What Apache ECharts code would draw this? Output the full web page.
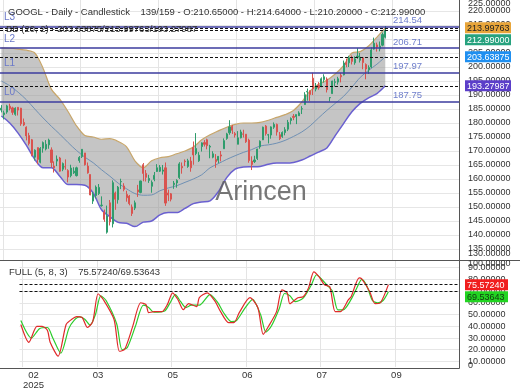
<!DOCTYPE html>
<html><head><meta charset="utf-8">
<script src="https://cdn.jsdelivr.net/npm/echarts@6/dist/echarts.min.js"></script>
<style>html,body{margin:0;padding:0;background:#fff}#c{width:520px;height:390px}</style>
</head><body><div id="c"></div>
<script>
// ---------- data ----------
const dates = [
'2025-02-11','2025-02-12','2025-02-13','2025-02-14','2025-02-18','2025-02-19','2025-02-20','2025-02-21','2025-02-24','2025-02-25','2025-02-26','2025-02-27','2025-02-28',
'2025-03-03','2025-03-04','2025-03-05','2025-03-06','2025-03-07','2025-03-10','2025-03-11','2025-03-12','2025-03-13','2025-03-14','2025-03-17','2025-03-18','2025-03-19','2025-03-20','2025-03-21','2025-03-24','2025-03-25','2025-03-26','2025-03-27','2025-03-28','2025-03-31',
'2025-04-01','2025-04-02','2025-04-03','2025-04-04','2025-04-07','2025-04-08','2025-04-09','2025-04-10','2025-04-11','2025-04-14','2025-04-15','2025-04-16','2025-04-17','2025-04-21','2025-04-22','2025-04-23','2025-04-24','2025-04-25','2025-04-28','2025-04-29','2025-04-30',
'2025-05-01','2025-05-02','2025-05-05','2025-05-06','2025-05-07','2025-05-08','2025-05-09','2025-05-12','2025-05-13','2025-05-14','2025-05-15','2025-05-16','2025-05-19','2025-05-20','2025-05-21','2025-05-22','2025-05-23','2025-05-27','2025-05-28','2025-05-29','2025-05-30',
'2025-06-02','2025-06-03','2025-06-04','2025-06-05','2025-06-06','2025-06-09','2025-06-10','2025-06-11','2025-06-12','2025-06-13','2025-06-16','2025-06-17','2025-06-18','2025-06-20','2025-06-23','2025-06-24','2025-06-25','2025-06-26','2025-06-27','2025-06-30',
'2025-07-01','2025-07-02','2025-07-03','2025-07-07','2025-07-08','2025-07-09','2025-07-10','2025-07-11','2025-07-14','2025-07-15','2025-07-16','2025-07-17','2025-07-18','2025-07-21','2025-07-22','2025-07-23','2025-07-24','2025-07-25','2025-07-28','2025-07-29','2025-07-30','2025-07-31',
'2025-08-01','2025-08-04','2025-08-05','2025-08-06','2025-08-07','2025-08-08','2025-08-11','2025-08-12','2025-08-13','2025-08-14','2025-08-15','2025-08-18','2025-08-19','2025-08-20','2025-08-21','2025-08-22','2025-08-25','2025-08-26','2025-08-27','2025-08-28','2025-08-29'];
const futureDates = ['2025-09-02','2025-09-03','2025-09-04','2025-09-05','2025-09-08','2025-09-09','2025-09-10','2025-09-11','2025-09-12','2025-09-15','2025-09-16','2025-09-17','2025-09-18','2025-09-19','2025-09-22','2025-09-23','2025-09-24','2025-09-25','2025-09-26','2025-09-29','2025-09-30','2025-10-01','2025-10-02','2025-10-03','2025-10-06','2025-10-07'];

const open = [184.6,183.0,183.9,186.0,185.4,183.1,185.6,185.3,180.2,178.5,175.5,174.0,167.8,
171.2,166.0,171.0,170.7,172.2,170.4,164.6,166.4,167.5,163.5,164.4,163.0,161.2,162.2,161.2,166.6,168.0,169.3,164.6,161.6,152.1,
154.1,154.8,150.5,148.2,141.0,151.5,144.0,155.0,152.6,159.0,157.5,154.5,153.9,150.0,149.6,156.1,155.2,165.1,162.0,159.5,157.4,
159.9,162.7,162.8,162.8,164.0,155.0,154.7,158.0,158.6,160.5,164.5,166.4,164.5,166.4,171.3,169.1,166.5,171.6,173.0,174.0,171.4,
167.8,167.0,166.7,168.6,170.8,174.5,176.5,178.8,176.2,172.4,174.7,176.1,176.0,173.9,166.4,166.2,167.3,171.5,174.0,178.9,
175.7,175.7,178.5,179.5,175.8,175.2,176.6,177.8,180.9,182.4,182.3,182.6,185.0,186.6,191.1,191.5,196.0,192.1,193.5,193.0,195.5,195.7,
189.0,190.5,194.5,194.6,197.0,197.2,201.5,201.5,203.5,201.5,203.5,202.4,203.3,200.9,199.0,200.0,206.4,207.9,206.5,207.8,210.65];
const high = [186.4,184.4,186.5,186.9,185.8,185.6,185.7,185.4,181.6,178.8,176.5,174.3,170.6,
171.3,171.4,173.4,173.9,174.4,171.3,166.3,168.4,167.9,165.9,167.0,163.5,165.1,164.2,164.4,168.2,170.7,169.3,165.9,161.6,155.4,
157.7,158.2,153.8,149.1,150.5,152.5,159.5,155.5,157.5,160.1,158.5,155.8,154.3,150.9,152.3,157.9,159.4,165.7,163.2,161.5,159.5,
162.5,165.3,165.0,165.0,165.9,156.2,155.0,159.3,159.9,166.0,165.9,167.0,167.2,167.9,173.4,176.4,169.6,173.1,173.9,174.4,172.2,
169.9,168.9,168.2,170.0,174.5,176.5,181.0,179.3,176.8,177.1,177.6,177.6,176.0,174.4,168.1,168.3,170.8,173.8,178.7,179.3,
176.1,178.8,180.2,179.8,176.8,177.0,178.5,181.1,182.0,183.2,183.0,184.2,186.0,191.0,192.3,191.6,197.95,194.3,194.6,196.3,197.4,196.3,
189.2,195.1,195.8,196.5,197.9,202.3,203.0,204.0,204.1,203.8,206.71,205.0,203.6,201.3,200.6,207.0,210.5,208.7,209.1,212.3,214.64];
const low = [183.8,181.3,183.3,184.5,182.9,182.6,182.7,179.0,178.9,173.8,172.0,168.1,166.6,
165.3,165.6,169.4,170.2,170.8,164.1,162.3,164.6,162.6,162.8,163.3,158.8,160.6,161.8,160.9,165.8,167.5,164.8,161.9,154.2,151.1,
153.1,154.3,150.1,144.7,140.5,143.4,142.7,149.0,151.2,156.4,155.6,151.9,150.6,146.8,148.9,153.6,154.9,159.2,159.1,158.6,155.1,
159.2,162.5,162.5,161.6,150.4,152.1,152.0,156.5,156.9,160.0,161.9,164.6,164.0,162.6,165.1,168.5,166.1,169.8,171.6,170.6,167.4,
167.4,164.0,165.6,166.3,170.8,174.0,175.8,176.1,174.8,172.4,174.5,174.8,172.9,165.8,163.2,165.7,166.8,170.8,173.9,175.5,
172.7,174.4,177.9,175.5,173.9,174.7,175.6,177.1,179.5,181.0,179.6,182.5,183.2,186.5,188.0,187.9,190.0,191.3,191.9,192.8,194.4,190.9,
187.7,190.4,193.0,193.7,194.5,197.0,199.9,200.0,200.9,200.8,202.9,201.6,199.2,195.6,197.5,199.6,206.2,205.5,205.6,207.4,210.2];
const close = [185.3,183.6,186.1,185.2,183.8,185.3,184.6,179.7,179.3,175.4,172.7,168.5,170.3,
167.0,170.9,173.0,172.4,173.9,165.9,164.0,167.1,162.8,165.5,164.3,160.7,163.9,162.8,164.0,167.7,170.6,165.1,162.2,154.3,154.6,
157.1,157.0,150.7,145.6,146.8,144.7,158.7,152.8,157.1,159.1,156.3,153.3,151.2,147.7,151.5,155.4,159.3,162.0,160.6,160.2,158.8,
161.3,164.0,164.2,163.2,151.4,154.3,152.8,158.5,159.5,165.4,164.0,166.2,166.5,164.0,168.6,170.9,168.5,172.9,172.4,171.9,171.7,
169.0,166.2,168.1,168.2,173.7,176.1,178.6,177.4,175.7,174.7,176.8,176.0,173.3,166.6,165.2,166.8,170.7,173.5,178.5,176.2,
175.8,178.6,179.5,176.8,174.4,176.6,177.6,180.2,181.6,182.0,183.0,183.6,185.1,190.1,191.3,190.2,192.2,193.2,192.6,195.8,196.5,191.9,
189.1,195.0,194.7,195.8,196.5,201.4,200.9,203.3,202.0,202.9,203.9,203.5,201.6,199.3,199.8,206.1,208.5,207.1,207.5,211.6,212.99];

// Bollinger band values read at every 3rd bar
const bbBars  = [0,3,6,9,12,15,18,21,24,27,30,33,36,39,42,45,48,51,54,57,60,63,66,69,72,75,78,81,84,87,90,93,96,99,102,105,108,111,114,117,120,123,126,129,132,135,138];
const bbUpper = [206.8,206.7,206.4,206.0,205.0,199.5,192.0,188.5,184.0,179.0,175.5,175.0,174.2,174.4,173.4,171.5,166.5,164.0,166.5,167.6,168.0,169.0,170.0,171.4,174.0,175.8,177.2,178.5,179.5,180.0,180.0,180.2,181.0,182.0,183.0,184.5,187.5,191.5,193.8,195.3,197.5,200.5,205.0,205.5,207.5,210.7,213.99763];
const bbMid   = [195.0,193.3,191.0,188.3,185.0,181.8,178.8,176.0,173.0,170.2,167.8,165.8,163.3,161.0,158.5,156.5,154.8,154.2,154.3,155.8,156.8,157.6,158.8,160.0,161.5,164.0,165.5,167.0,168.3,169.5,170.5,171.8,172.2,172.8,173.8,175.2,176.8,179.0,181.8,184.5,187.0,189.5,192.8,196.3,198.8,201.0,203.63875];
const bbLower = [182.5,180.0,176.4,172.0,167.0,164.0,164.0,161.0,158.0,158.0,157.8,155.0,149.0,146.5,144.5,144.2,143.0,144.6,145.0,147.2,148.0,148.0,149.5,151.2,151.8,152.2,155.5,160.5,163.5,164.3,164.4,164.5,165.3,165.7,165.7,165.9,166.8,168.2,169.6,171.1,175.5,179.8,184.0,187.0,189.0,190.5,193.27987];

// Full stochastic (5,8,3)
const kBars = [0,3,6,8,10,11,14,17,19,21,23,25,27,29,31,35,37,39,42,45,47,48,50,53,55,57,59,61,63,66,67,70,73,75,78,80,82,86,89,91,93,96,98,100,101,104,106,108,110,112,114,116,118,120,123,124,127,128,131,133,135,138];
const kValues = [41.5,26.3,39.9,40,36.5,26.3,14.5,41.5,45.8,48.3,47.5,39,44,67.8,62.7,45.8,18.7,20.4,39.9,60.1,58.5,51.7,52.5,52.5,58.5,68.6,62.7,54.2,59.3,56.8,64.4,68.6,61,52.5,43.2,43.2,51.7,64.4,55.9,33.1,40,52.5,71.1,68.6,59.3,64.4,65.2,72.8,86.4,82.1,75.4,73.7,52.5,52.5,62.7,65.2,81.3,80.4,69.5,59.3,60.1,75.5724];
const dBars = [0,4,7,10,12,15,18,20,22,24,26,28,30,32,36,38,40,43,46,48,50,54,56,58,60,62,64,67,71,74,76,79,81,84,87,90,92,94,97,99,101,103,106,109,111,113,115,117,119,121,124,126,128,130,132,134,136,138];
const dValues = [45,30,38,39,30,17,38,45,48,46,41,50,66,62,42,20,22,40,58,56,52,53,60,67,61,56,58,58,67,60,52,44,45,55,63,50,35,40,55,68,66,61,64,75,84,80,75,70,54,54,63,72,80,74,62,60,62,69.53643];

const levels = [214.54, 206.71, 197.97, 187.75];
const levelNames = ['L3','L2','L1','L0'];
const bbLast = [203.63875, 213.99763, 193.27987];   // mid / upper / lower
const ohlcLast = [210.65, 214.64, 210.20, 212.99];
const stochLast = [75.5724, 69.53643];
const cursorText = '139/159';

// ---------- chart ----------
const FONT = '"Liberation Sans", Arial, sans-serif';
const AX = 9;
const chart = echarts.init(document.getElementById('c'), null, {renderer: 'canvas'});
const cats = dates.concat(futureDates);
const ohlc = open.map((o, i) => [o, close[i], low[i], high[i]]);
const pairs = (xs, ys) => xs.map((x, i) => [x, ys[i]]);
const tickEvery = (i) => i % 28 === 1;
const f5 = v => v.toFixed(5);

const xCommon = {
  type: 'category', data: cats, boundaryGap: true,
  axisLine: {show: false}, axisTick: {show: false},
  splitLine: {show: true, interval: tickEvery, lineStyle: {color: '#e4e4e4', width: 1}}
};

const option = {
  animation: false,
  backgroundColor: '#ffffff',
  textStyle: {fontFamily: FONT},
  grid: [
    {left: -1, width: 460, top: 0, height: 260},
    {left: -1, width: 460, top: 261, height: 107}
  ],
  xAxis: [
    Object.assign({}, xCommon, {gridIndex: 0, axisLabel: {show: false}}),
    Object.assign({}, xCommon, {gridIndex: 1,
      axisLabel: {show: true, interval: tickEvery, margin: 3, color: '#333', fontSize: 9.5, fontFamily: FONT,
        formatter: (v, idx) => idx === 1 ? '{s|' + v.slice(5, 7) + '}\n{s|' + v.slice(0, 4) + '}' : '{n|' + v.slice(5, 7) + '}',
        rich: {s: {padding: [0, 0, 0, 20], fontSize: 9.5, lineHeight: 10, color: '#333', fontFamily: FONT},
               n: {fontSize: 9.5, lineHeight: 10, color: '#333', fontFamily: FONT}}}})
  ],
  yAxis: [
    {type: 'value', gridIndex: 0, position: 'right', min: 131.0714, max: 223.9286, splitNumber: 19,
      axisLine: {show: false}, axisTick: {show: false},
      axisLabel: {margin: 9, fontSize: AX, color: '#333', fontFamily: FONT, formatter: f5, showMinLabel: false, showMaxLabel: false},
      splitLine: {lineStyle: {color: '#e6e6e6'}, showMinLine: false, showMaxLine: false}},
    {type: 'value', gridIndex: 1, position: 'right', min: 5.26, max: 95.75, splitNumber: 9,
      axisLine: {show: false}, axisTick: {show: false},
      axisLabel: {margin: 9, fontSize: AX, color: '#333', fontFamily: FONT, formatter: f5, showMinLabel: false, showMaxLabel: false},
      splitLine: {lineStyle: {color: '#e6e6e6'}, showMinLine: false, showMaxLine: false}}
  ],
  series: [
    {name: 'bandBase', type: 'line', xAxisIndex: 0, yAxisIndex: 0, stack: 'bb', data: pairs(bbBars, bbLower),
      symbol: 'none', lineStyle: {opacity: 0}, silent: true, z: 1},
    {name: 'bandFill', type: 'line', xAxisIndex: 0, yAxisIndex: 0, stack: 'bb',
      data: bbBars.map((b, i) => [b, bbUpper[i] - bbLower[i]]),
      symbol: 'none', lineStyle: {opacity: 0}, areaStyle: {color: 'rgba(150,150,150,0.55)', opacity: 1}, silent: true, z: 1},
    {name: 'bbUpper', type: 'line', xAxisIndex: 0, yAxisIndex: 0, data: pairs(bbBars, bbUpper), symbol: 'none',
      smooth: 0.3, lineStyle: {color: '#c8a66a', width: 1.2}, silent: true, z: 2},
    {name: 'bbMid', type: 'line', xAxisIndex: 0, yAxisIndex: 0, data: pairs(bbBars, bbMid), symbol: 'none',
      smooth: 0.3, lineStyle: {color: '#6f90b4', width: 1}, silent: true, z: 2},
    {name: 'bbLower', type: 'line', xAxisIndex: 0, yAxisIndex: 0, data: pairs(bbBars, bbLower), symbol: 'none',
      smooth: 0.3, lineStyle: {color: '#6a60d0', width: 1.5}, silent: true, z: 2},
    {name: 'GOOGL', type: 'candlestick', xAxisIndex: 0, yAxisIndex: 0, data: ohlc, barWidth: 1.6, z: 3,
      itemStyle: {color: '#2f9c6c', color0: '#d9534f', borderColor: '#2f9c6c', borderColor0: '#d9534f', borderWidth: 1},
      markLine: {silent: true, symbol: ['none', 'none'], animation: false,
        data: levels.map((v, i) => ({yAxis: v, lineStyle: {color: '#3b3b9e', width: 1.6, type: 'solid'},
            label: {show: true, position: 'insideStartTop', formatter: levelNames[i], color: '#6a78c8', fontSize: 10, distance: 4, fontFamily: FONT}}))
          .concat([bbLast[1], ohlcLast[3], bbLast[0], bbLast[2]].map(v => ({yAxis: v,
            lineStyle: {color: '#111', width: 1, type: [3, 2]}, label: {show: false}})))},
      markPoint: {silent: true, symbol: 'circle', symbolSize: 0, animation: false,
        data: levels.map(v => ({coord: [146, v], value: v,
          label: {show: true, position: 'top', distance: 1, formatter: v.toFixed(2), color: '#6f7fcc', fontSize: 9.5, fontFamily: FONT}}))}},
    {name: 'K', type: 'line', xAxisIndex: 1, yAxisIndex: 1, data: pairs(kBars, kValues), symbol: 'none', smooth: 0.25,
      lineStyle: {color: '#e02a2a', width: 1.2}, silent: true, z: 3,
      markLine: {silent: true, symbol: ['none', 'none'], animation: false,
        data: stochLast.map(v => ({yAxis: v, lineStyle: {color: '#111', width: 1, type: [3, 2]}, label: {show: false}}))}},
    {name: 'D', type: 'line', xAxisIndex: 1, yAxisIndex: 1, data: pairs(dBars, dValues), symbol: 'none', smooth: 0.25,
      lineStyle: {color: '#2ccc2c', width: 1.2}, silent: true, z: 2}
  ]
};
chart.setOption(option);

// ---------- overlay texts, frame and value badges ----------
const g = [];
const ln = (x1, y1, x2, y2) => ({type: 'line', silent: true, z: 90, shape: {x1, y1, x2, y2}, style: {stroke: '#555', lineWidth: 1}});
g.push(ln(0, 260.5, 520, 260.5), ln(459.5, 0, 459.5, 368.5), ln(0, 368.5, 459.5, 368.5));
const txt = (x, y, s, size, fill, extra) => Object.assign({type: 'text', x, y, silent: true, z: 95,
  style: {text: s, fill, font: size + 'px ' + FONT, verticalAlign: 'middle', align: 'left'}}, extra || {});
g.push(txt(8, 12, 'GOOGL - Daily - Candlestick    ' + cursorText + ' - O:' + f5(ohlcLast[0]) + ' - H:' + f5(ohlcLast[1]) + ' - L:' + f5(ohlcLast[2]) + ' - C:' + f5(ohlcLast[3]), 9.5, '#333'));
g.push(txt(6, 29, 'BB (20, 2) - ' + bbLast.map(f5).join('/'), 9.5, '#333'));
g.push(txt(9, 272, 'FULL (5, 8, 3)    ' + stochLast.map(f5).join('/'), 9.5, '#333'));
g.push({type: 'text', x: 261, y: 193, silent: true, z: 96,
  style: {text: 'Arincen', fill: 'rgba(95,95,95,0.85)', font: '27px ' + FONT, align: 'center', verticalAlign: 'middle'}});
// edge tick labels pushed inside the panels
g.push(txt(468, 4, '225.00000', AX, '#333'), txt(468, 253.5, '130.00000', AX, '#333'),
       txt(468, 264, '100.00000', AX, '#333'), txt(468, 366, '0', AX, '#333'));

function badges(axisIdx, items, w) {
  let prev = -1e9;
  items.forEach(it => {
    let y = chart.convertToPixel({yAxisIndex: axisIdx}, it.v);
    if (y < prev + 12) y = prev + 12;
    prev = y;
    g.push({type: 'rect', silent: true, z: 97, shape: {x: 465, y: y - 5.5, width: w, height: 11}, style: {fill: it.bg}});
    g.push(txt(467, y + 0.5, f5(it.v), AX, it.fg, {z: 98}));
  });
}
badges(0, [{v: bbLast[1], bg: '#e8a53a', fg: '#222'}, {v: ohlcLast[3], bg: '#26a27e', fg: '#fff'},
           {v: bbLast[0], bg: '#1f8ff0', fg: '#fff'}, {v: bbLast[2], bg: '#5b3ec9', fg: '#fff'}], 46);
badges(1, [{v: stochLast[0], bg: '#f01e1e', fg: '#fff'}, {v: stochLast[1], bg: '#22d422', fg: '#103810'}], 43);
chart.setOption({graphic: g});
</script></body></html>
